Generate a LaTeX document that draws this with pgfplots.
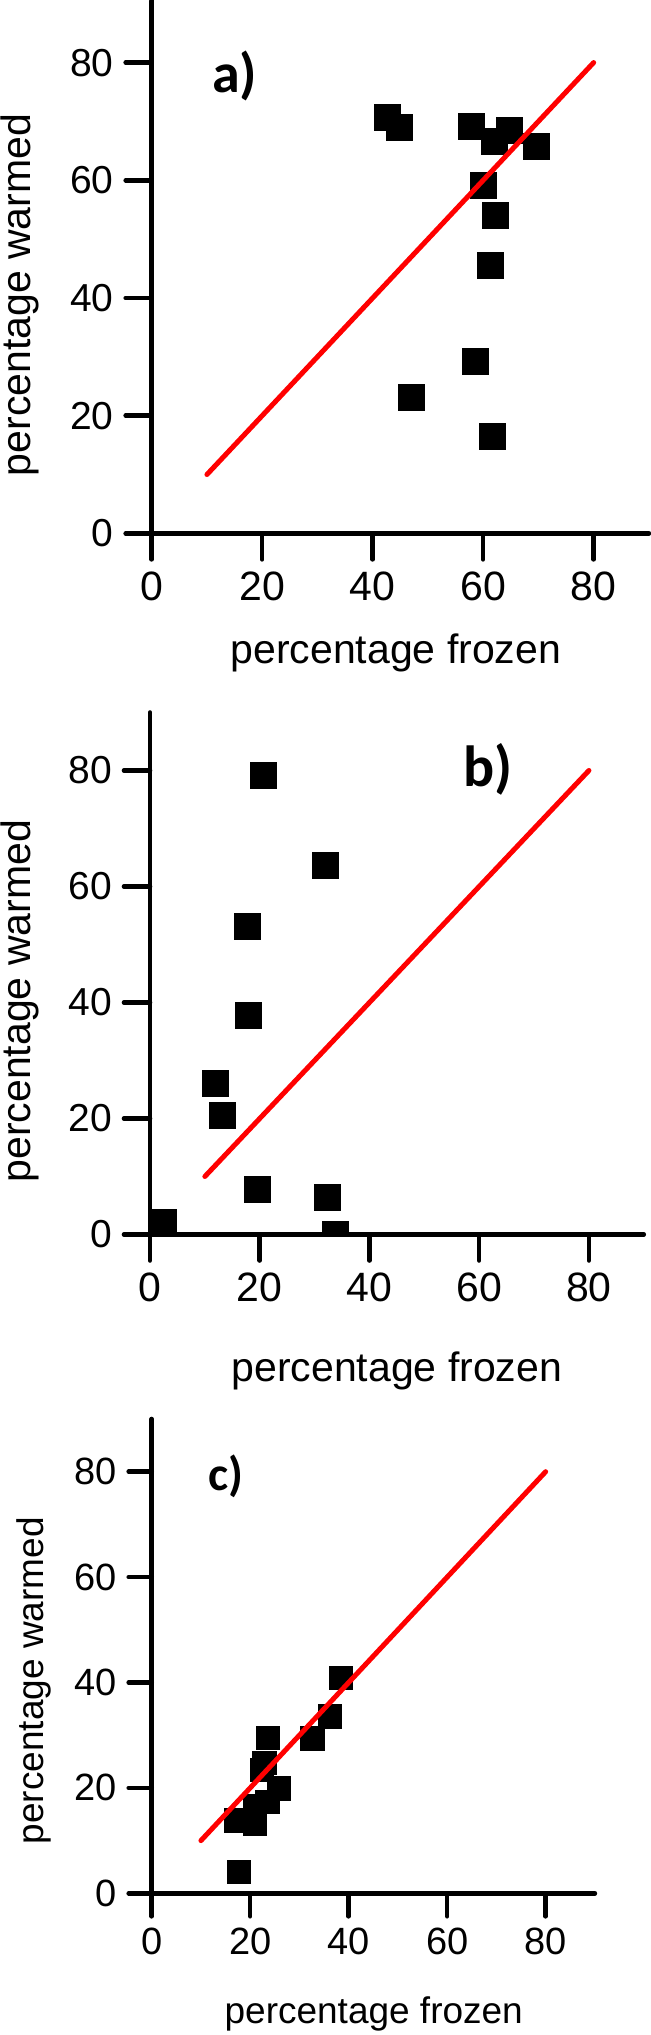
\documentclass[border=0pt]{standalone}
\usepackage{fontspec}
\setmainfont{Liberation Sans}
\newfontfamily\calib{Carlito}
\usepackage{pgfplots}
\pgfplotsset{compat=1.18}

\pgfplotsset{
 panel/.style={
  scale only axis,
  xmin=0, xmax=90, ymin=0,
  axis x line*=bottom, axis y line*=left,
  axis line style={line width=2.3pt, -, line cap=round, black},
  tick style={line width=2.3pt, black, line cap=round},
  tick align=outside,
  major tick length=13pt,
  xtick={0,20,40,60,80}, ytick={0,20,40,60,80},
  /pgf/number format/assume math mode=true,
  xticklabel style={font=\fontsize{20.5}{20.5}\selectfont, yshift=-2.5pt},
  yticklabel style={font=\fontsize{19.5}{19.5}\selectfont, xshift=-2.5pt},
  label style={font=\fontsize{20.5}{20.5}\selectfont},
  xlabel={percentage frozen},
  ylabel={percentage warmed},
  clip marker paths=true,
  axis on top,
  anchor=south west,
 },
 sq/.style={only marks, mark=square*, mark size=#1, mark options={draw=none, fill=black}},
 rl/.style={red, line width=2.5pt, line cap=round, no marks},
}

\pgfplotstableread{
x y
42.7 70.6
44.8 69.0
57.9 69.1
64.7 68.5
62.0 66.6
69.6 65.7
60.0 59.1
62.2 54.0
61.4 45.5
58.6 29.2
47.1 23.1
61.7 16.5
}\dataA

\pgfplotstableread{
x y
2.5 2.1
20.7 79.1
31.9 63.7
17.7 53.2
17.9 37.7
12.0 26.1
13.2 20.5
19.6 7.8
32.3 6.4
33.8 0.0
}\dataB

\pgfplotstableread{
x y
17.7 4.1
17.1 13.8
21.0 13.3
20.9 16.5
23.6 29.5
22.9 24.7
22.4 23.4
25.8 19.9
23.5 17.4
32.6 29.4
36.2 33.6
38.4 40.9
}\dataC

\begin{document}
\begin{tikzpicture}
\path[use as bounding box] (0,0) rectangle (325.5pt,1017.5pt);

% panel a
\begin{axis}[panel, at={(75.85pt,750.8pt)}, width=248.6pt, height=266.3pt, ymax=90.5,
  xlabel style={at={(axis description cs:0.491,-0.2452)}, anchor=base},
  ylabel style={at={(axis description cs:-0.2434,0.4475)}, anchor=base}]
\addplot[sq=6.5pt] table[x=x,y=y] {\dataA};
\addplot[rl] coordinates {(10,10) (80,80)};
\node[anchor=base west, inner sep=0pt, font=\calib\bfseries\fontsize{28}{28}\selectfont] at (axis cs:10.9,74.9) {a)};
\end{axis}

% panel b
\begin{axis}[panel, at={(75pt,400.25pt)}, width=246.9pt, height=261pt, ymax=90,
  xlabel style={at={(axis description cs:0.5,-0.2816)}, anchor=base},
  ylabel style={at={(axis description cs:-0.241,0.447)}, anchor=base}]
\addplot[sq=6.5pt] table[x=x,y=y] {\dataB};
\addplot[rl] coordinates {(10,10) (80,80)};
\node[anchor=base west, inner sep=0pt, font=\calib\bfseries\fontsize{29}{29}\selectfont] at (axis cs:57.0,77.2) {b)};
\end{axis}

% panel c
\begin{axis}[panel, at={(75.85pt,70.85pt)}, width=221.6pt, height=237.15pt, ymax=90,
  major tick length=11.5pt,
  label style={font=\fontsize{18.5}{18.5}\selectfont},
  xticklabel style={font=\fontsize{19}{19}\selectfont},
  yticklabel style={font=\fontsize{19}{19}\selectfont},
  xlabel style={at={(axis description cs:0.501,-0.2741)}, anchor=base},
  ylabel style={at={(axis description cs:-0.2437,0.448)}, anchor=base}]
\addplot[sq=5.85pt] table[x=x,y=y] {\dataC};
\addplot[rl] coordinates {(10,10) (80,80)};
\node[anchor=base west, inner sep=0pt, font=\calib\bfseries\fontsize{24}{24}\selectfont] at (axis cs:11.5,76.5) {c)};
\end{axis}
\end{tikzpicture}
\end{document}
